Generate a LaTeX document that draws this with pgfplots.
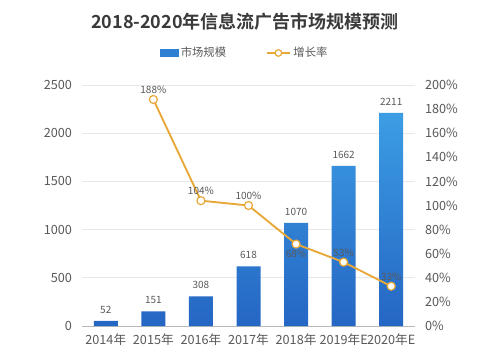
\documentclass[border=0pt]{standalone}
\usepackage{fontspec}
\setmainfont{Noto Sans CJK SC}[BoldFont={Noto Sans CJK SC Bold}]
\usepackage{pgfplots}
\usepackage{pgfplotstable}
\pgfplotsset{compat=1.18}
\definecolor{bartop}{HTML}{3C9DE4}
\definecolor{barbottom}{HTML}{2566C4}
\definecolor{barmid}{HTML}{2F7FD3}
\definecolor{linecol}{HTML}{E8A838}
\definecolor{labelgray}{HTML}{595959}
\definecolor{titlegray}{HTML}{3A3A3A}
\pgfplotstableread{
x y
0 52
1 151
2 308
3 618
4 1070
5 1662
6 2211
}\bars
\pgfplotstableread{
x y
1 188
2 104
3 100
4 68
5 53
6 33
}\rate
\pgfplotstableread{
x y
1 188
2 104
3 100
5 53
6 33
}\rateabove
\pgfplotstableread{
x y
4 68
}\ratebelow
\begin{document}
\begin{tikzpicture}
\path[use as bounding box, fill=white] (0,0) rectangle (375pt,271.5pt);
\node[font=\fontsize{13.5}{16}\selectfont\bfseries, text=titlegray] at (183.75pt,255pt) {2018-2020年信息流广告市场规模预测};
\begin{axis}[
  at={(61.5pt,27pt)}, anchor=south west, scale only axis,
  width=249.75pt, height=180.75pt,
  xmin=-0.5, xmax=6.5, ymin=0, ymax=2500,
  xtick={0,...,6},
  xticklabels={2014年,2015年,2016年,2017年,2018年,2019年E,2020年E},
  ytick={0,500,...,2500},
  axis x line*=bottom, axis y line*=left,
  axis line style={-},
  y axis line style={draw=none},
  x axis line style={draw=gray!55, line width=0.6pt},
  major tick length=0pt,
  ymajorgrids, grid style={gray!18, line width=0.5pt},
  ticklabel style={font=\fontsize{9.5}{11}\selectfont, text=labelgray},
  /pgf/number format/assume math mode=true,
  /pgf/number format/1000 sep={},
  scaled y ticks=false,
  yticklabel style={xshift=-4pt},
  xticklabel style={yshift=-2pt},
]
\addplot[ybar, bar width=18pt, draw=none, top color=bartop, bottom color=barbottom,
  nodes near coords,
  every node near coord/.append style={font=\fontsize{7.5}{9}\selectfont, text=labelgray, yshift=2pt}]
  table[x=x, y=y] {\bars};
\end{axis}
\begin{axis}[
  at={(61.5pt,27pt)}, anchor=south west, scale only axis,
  width=249.75pt, height=180.75pt,
  xmin=-0.5, xmax=6.5, ymin=0, ymax=200,
  axis x line=none, axis y line*=right,
  axis line style={-},
  y axis line style={draw=none},
  major tick length=0pt,
  ytick={0,20,...,200},
  yticklabel={\pgfmathprintnumber{\tick}\%},
  ticklabel style={font=\fontsize{9.5}{11}\selectfont, text=labelgray},
  /pgf/number format/assume math mode=true,
  yticklabel style={xshift=4pt},
  legend columns=2,
  legend style={draw=none, fill=none, at={(0.49,1.133)}, anchor=center,
    font=\fontsize{8.5}{10}\selectfont, text=labelgray,
    /tikz/every even column/.append style={column sep=28pt}},
]
\addlegendimage{legend image code/.code={\fill[barmid] (0pt,-2.5pt) rectangle (13pt,2.5pt);}}
\addlegendentry{市场规模}
\addlegendimage{linecol, line width=1.4pt, mark=*, mark size=2.5pt,
  mark options={fill=white, draw=linecol, line width=0.9pt}}
\addlegendentry{增长率}
\addplot[forget plot, linecol, line width=1.4pt, mark=*, mark size=3pt,
  mark options={fill=white, draw=linecol, line width=0.9pt}]
  table[x=x, y=y] {\rate};
\addplot[forget plot, draw=none, mark=none,
  nodes near coords={\pgfmathprintnumber{\pgfplotspointmeta}\%},
  every node near coord/.append style={font=\fontsize{7.5}{9}\selectfont, text=labelgray, anchor=south, inner sep=4pt}]
  table[x=x, y=y] {\rateabove};
\addplot[forget plot, draw=none, mark=none,
  nodes near coords={\pgfmathprintnumber{\pgfplotspointmeta}\%},
  every node near coord/.append style={font=\fontsize{7.5}{9}\selectfont, text=labelgray, anchor=north, inner sep=4pt}]
  table[x=x, y=y] {\ratebelow};
\end{axis}
\end{tikzpicture}
\end{document}
